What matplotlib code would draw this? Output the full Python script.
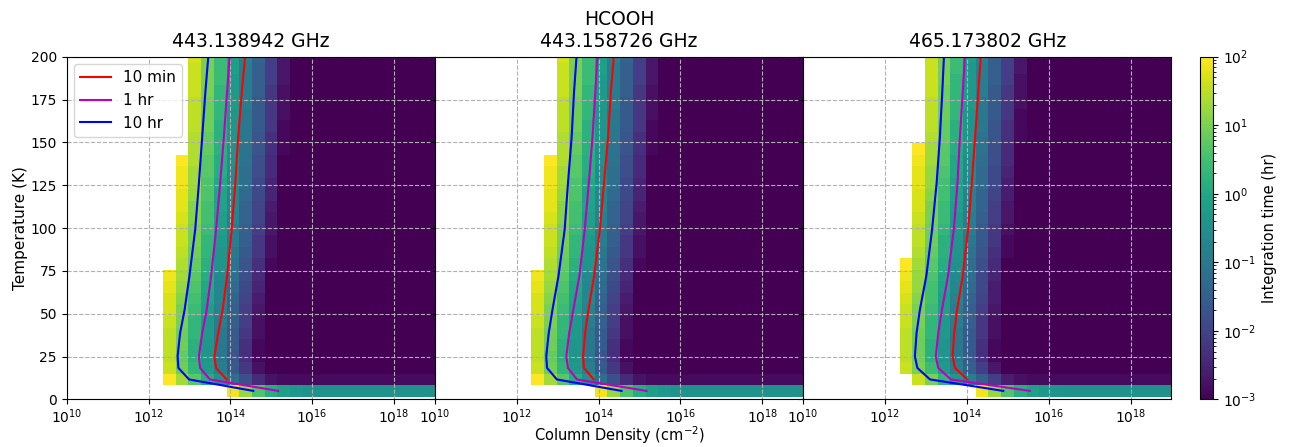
import numpy as np
import matplotlib

matplotlib.use("Agg")
import matplotlib.pyplot as plt
from matplotlib.colors import LogNorm

# ── grid of the calculation: 30 column densities x 30 temperatures ──────────
COLDENS = np.logspace(10, 19, 30)        # cm^-2
TEMPS = np.linspace(5, 200, 30)          # K

TITLES = ["443.138942 GHz", "HCOOH\n443.158726 GHz", "465.173802 GHz"]

# log10(integration time / hr) per temperature row (bottom -> top).
# Each row: (first visible column, values from that column on); columns to
# the left are undetectable (blank), columns to the right keep the last value.
P1_CELLS = [
    (13, [1.9, 1.2, 0.6, 0.1, -0.2, -0.35, -0.42, -0.45]),
    (8, [2.0, 1.3, 0.7, 0.1, -0.5, -1.2, -1.8, -2.4, -2.75, -2.85]),
    (8, [1.6, 0.9, 0.3, -0.3, -0.9, -1.6, -2.2, -2.8, -3.4]),
    (8, [1.5, 0.8, 0.2, -0.4, -1.0, -1.7, -2.3, -2.9, -3.5]),
    (8, [1.5, 0.9, 0.2, -0.4, -1.0, -1.6, -2.3, -2.9, -3.5]),
    (8, [1.5, 0.9, 0.3, -0.3, -1.0, -1.6, -2.2, -2.8, -3.4]),
    (8, [1.6, 1.0, 0.3, -0.3, -0.9, -1.5, -2.1, -2.8, -3.4]),
    (8, [1.7, 1.0, 0.4, -0.2, -0.8, -1.5, -2.1, -2.7, -3.3]),
    (8, [1.7, 1.1, 0.5, -0.1, -0.7, -1.4, -2.0, -2.6, -3.2]),
    (8, [1.8, 1.2, 0.6, 0.0, -0.7, -1.3, -1.9, -2.5, -3.1]),
    (8, [1.9, 1.3, 0.7, 0.1, -0.6, -1.2, -1.8, -2.4, -3.0, -3.7]),
    (9, [1.4, 0.8, 0.2, -0.4, -1.1, -1.7, -2.3, -2.9, -3.5]),
    (9, [1.5, 0.9, 0.3, -0.4, -1.0, -1.6, -2.2, -2.8, -3.5]),
    (9, [1.6, 1.0, 0.3, -0.3, -0.9, -1.5, -2.2, -2.8, -3.4]),
    (9, [1.6, 1.0, 0.4, -0.2, -0.9, -1.5, -2.1, -2.7, -3.3]),
    (9, [1.7, 1.1, 0.5, -0.2, -0.8, -1.4, -2.0, -2.7, -3.3]),
    (9, [1.8, 1.1, 0.5, -0.1, -0.7, -1.4, -2.0, -2.6, -3.2]),
    (9, [1.8, 1.2, 0.6, -0.1, -0.7, -1.3, -1.9, -2.5, -3.2]),
    (9, [1.9, 1.3, 0.6, 0.0, -0.6, -1.2, -1.9, -2.5, -3.1]),
    (9, [1.9, 1.3, 0.7, 0.1, -0.6, -1.2, -1.8, -2.4, -3.0, -3.7]),
    (9, [2.0, 1.4, 0.7, 0.1, -0.5, -1.1, -1.8, -2.4, -3.0, -3.6]),
    (10, [1.4, 0.8, 0.2, -0.5, -1.1, -1.7, -2.3, -2.9, -3.6]),
    (10, [1.4, 0.8, 0.2, -0.4, -1.0, -1.7, -2.3, -2.9, -3.5]),
    (10, [1.5, 0.9, 0.2, -0.4, -1.0, -1.6, -2.2, -2.9, -3.5]),
    (10, [1.5, 0.9, 0.3, -0.4, -1.0, -1.6, -2.2, -2.8, -3.5]),
    (10, [1.5, 0.9, 0.3, -0.3, -0.9, -1.6, -2.2, -2.8, -3.4]),
    (10, [1.6, 1.0, 0.3, -0.3, -0.9, -1.5, -2.2, -2.8, -3.4]),
    (10, [1.6, 1.0, 0.4, -0.3, -0.9, -1.5, -2.1, -2.7, -3.4]),
    (10, [1.6, 1.0, 0.4, -0.2, -0.9, -1.5, -2.1, -2.7, -3.3]),
    (10, [1.7, 1.0, 0.4, -0.2, -0.8, -1.4, -2.1, -2.7, -3.3]),
]

P2_CELLS = [
    (13, [1.9, 1.2, 0.6, 0.1, -0.2, -0.35, -0.42, -0.45]),
    (8, [2.0, 1.3, 0.7, 0.1, -0.5, -1.2, -1.8, -2.4, -2.75, -2.85]),
    (8, [1.6, 0.9, 0.3, -0.3, -0.9, -1.6, -2.2, -2.8, -3.4]),
    (8, [1.5, 0.8, 0.2, -0.4, -1.0, -1.7, -2.3, -2.9, -3.5]),
    (8, [1.5, 0.9, 0.2, -0.4, -1.0, -1.6, -2.3, -2.9, -3.5]),
    (8, [1.5, 0.9, 0.3, -0.3, -1.0, -1.6, -2.2, -2.8, -3.4]),
    (8, [1.6, 1.0, 0.3, -0.3, -0.9, -1.5, -2.1, -2.8, -3.4]),
    (8, [1.7, 1.0, 0.4, -0.2, -0.8, -1.5, -2.1, -2.7, -3.3]),
    (8, [1.7, 1.1, 0.5, -0.1, -0.7, -1.4, -2.0, -2.6, -3.2]),
    (8, [1.8, 1.2, 0.6, 0.0, -0.7, -1.3, -1.9, -2.5, -3.1]),
    (8, [1.9, 1.3, 0.7, 0.1, -0.6, -1.2, -1.8, -2.4, -3.0, -3.7]),
    (9, [1.4, 0.8, 0.2, -0.4, -1.1, -1.7, -2.3, -2.9, -3.5]),
    (9, [1.5, 0.9, 0.3, -0.4, -1.0, -1.6, -2.2, -2.8, -3.5]),
    (9, [1.6, 1.0, 0.3, -0.3, -0.9, -1.5, -2.2, -2.8, -3.4]),
    (9, [1.6, 1.0, 0.4, -0.2, -0.9, -1.5, -2.1, -2.7, -3.3]),
    (9, [1.7, 1.1, 0.5, -0.2, -0.8, -1.4, -2.0, -2.7, -3.3]),
    (9, [1.8, 1.1, 0.5, -0.1, -0.7, -1.4, -2.0, -2.6, -3.2]),
    (9, [1.8, 1.2, 0.6, -0.1, -0.7, -1.3, -1.9, -2.5, -3.2]),
    (9, [1.9, 1.3, 0.6, 0.0, -0.6, -1.2, -1.9, -2.5, -3.1]),
    (9, [1.9, 1.3, 0.7, 0.1, -0.6, -1.2, -1.8, -2.4, -3.0, -3.7]),
    (9, [2.0, 1.4, 0.7, 0.1, -0.5, -1.1, -1.8, -2.4, -3.0, -3.6]),
    (10, [1.4, 0.8, 0.2, -0.5, -1.1, -1.7, -2.3, -2.9, -3.6]),
    (10, [1.4, 0.8, 0.2, -0.4, -1.0, -1.7, -2.3, -2.9, -3.5]),
    (10, [1.5, 0.9, 0.2, -0.4, -1.0, -1.6, -2.2, -2.9, -3.5]),
    (10, [1.5, 0.9, 0.3, -0.4, -1.0, -1.6, -2.2, -2.8, -3.5]),
    (10, [1.5, 0.9, 0.3, -0.3, -0.9, -1.6, -2.2, -2.8, -3.4]),
    (10, [1.6, 1.0, 0.3, -0.3, -0.9, -1.5, -2.2, -2.8, -3.4]),
    (10, [1.6, 1.0, 0.4, -0.3, -0.9, -1.5, -2.1, -2.7, -3.4]),
    (10, [1.6, 1.0, 0.4, -0.2, -0.9, -1.5, -2.1, -2.7, -3.3]),
    (10, [1.7, 1.0, 0.4, -0.2, -0.8, -1.4, -2.1, -2.7, -3.3]),
]

P3_CELLS = [
    (14, [1.9, 1.2, 0.6, 0.1, -0.2, -0.35, -0.42, -0.45]),
    (9, [1.6, 1.0, 0.3, -0.3, -0.9, -1.5, -2.1, -2.6, -2.8, -2.85]),
    (8, [1.6, 1.0, 0.4, -0.3, -0.9, -1.5, -2.1, -2.7, -3.4]),
    (8, [1.5, 0.9, 0.2, -0.4, -1.0, -1.6, -2.3, -2.9, -3.5]),
    (8, [1.5, 0.9, 0.2, -0.4, -1.0, -1.6, -2.3, -2.9, -3.5]),
    (8, [1.5, 0.9, 0.3, -0.3, -1.0, -1.6, -2.2, -2.8, -3.4]),
    (8, [1.6, 1.0, 0.3, -0.3, -0.9, -1.5, -2.2, -2.8, -3.4]),
    (8, [1.6, 1.0, 0.4, -0.2, -0.9, -1.5, -2.1, -2.7, -3.3]),
    (8, [1.7, 1.1, 0.5, -0.2, -0.8, -1.4, -2.0, -2.6, -3.3]),
    (8, [1.8, 1.2, 0.5, -0.1, -0.7, -1.3, -1.9, -2.6, -3.2]),
    (8, [1.9, 1.2, 0.6, 0.0, -0.6, -1.2, -1.9, -2.5, -3.1]),
    (8, [2.0, 1.3, 0.7, 0.1, -0.5, -1.2, -1.8, -2.4, -3.0, -3.6]),
    (9, [1.4, 0.8, 0.2, -0.4, -1.1, -1.7, -2.3, -2.9, -3.5]),
    (9, [1.5, 0.9, 0.2, -0.4, -1.0, -1.6, -2.2, -2.9, -3.5]),
    (9, [1.5, 0.9, 0.3, -0.3, -0.9, -1.6, -2.2, -2.8, -3.4]),
    (9, [1.6, 1.0, 0.4, -0.3, -0.9, -1.5, -2.1, -2.7, -3.4]),
    (9, [1.7, 1.0, 0.4, -0.2, -0.8, -1.4, -2.1, -2.7, -3.3]),
    (9, [1.7, 1.1, 0.5, -0.1, -0.8, -1.4, -2.0, -2.6, -3.2]),
    (9, [1.8, 1.2, 0.5, -0.1, -0.7, -1.3, -1.9, -2.6, -3.2]),
    (9, [1.8, 1.2, 0.6, 0.0, -0.6, -1.3, -1.9, -2.5, -3.1]),
    (9, [1.9, 1.3, 0.7, 0.0, -0.6, -1.2, -1.8, -2.4, -3.1]),
    (9, [2.0, 1.3, 0.7, 0.1, -0.5, -1.1, -1.8, -2.4, -3.0, -3.6]),
    (10, [1.4, 0.8, 0.2, -0.4, -1.1, -1.7, -2.3, -2.9, -3.6]),
    (10, [1.5, 0.8, 0.2, -0.4, -1.0, -1.7, -2.3, -2.9, -3.5]),
    (10, [1.5, 0.9, 0.3, -0.4, -1.0, -1.6, -2.2, -2.9, -3.5]),
    (10, [1.5, 0.9, 0.3, -0.3, -1.0, -1.6, -2.2, -2.8, -3.4]),
    (10, [1.6, 0.9, 0.3, -0.3, -0.9, -1.6, -2.2, -2.8, -3.4]),
    (10, [1.6, 1.0, 0.3, -0.3, -0.9, -1.5, -2.1, -2.8, -3.4]),
    (10, [1.6, 1.0, 0.4, -0.3, -0.9, -1.5, -2.1, -2.7, -3.4]),
    (10, [1.6, 1.0, 0.4, -0.2, -0.8, -1.5, -2.1, -2.7, -3.3]),
]

# ── detection curves: log10 N (cm^-2) reached at each temperature ───────────
LINE_T = [5.0, 11.7, 18.4, 25.2, 38.6, 52.1, 72.2, 99.1, 126.0, 152.9, 179.8, 200.0]
LINE_LABELS = ["10 min", "1 hr", "10 hr"]
LINE_COLORS = ["r", "m", "b"]

P1_10MIN = [np.nan, 13.91, 13.65, 13.61, 13.70, 13.81, 13.92, 14.03, 14.12, 14.19, 14.28, 14.36]
P1_1HR = [15.17, 13.50, 13.26, 13.23, 13.31, 13.42, 13.53, 13.65, 13.75, 13.84, 13.92, 13.98]
P1_10HR = [14.56, 12.99, 12.73, 12.71, 12.77, 12.88, 13.00, 13.14, 13.23, 13.31, 13.39, 13.46]

P2_10MIN = [np.nan, 13.88, 13.64, 13.62, 13.67, 13.75, 13.89, 14.03, 14.13, 14.23, 14.30, 14.37]
P2_1HR = [15.17, 13.47, 13.25, 13.21, 13.28, 13.38, 13.53, 13.66, 13.76, 13.85, 13.92, 13.97]
P2_10HR = [14.56, 12.98, 12.74, 12.72, 12.78, 12.87, 13.02, 13.17, 13.25, 13.34, 13.40, 13.46]

P3_10MIN = [np.nan, 14.01, 13.71, 13.65, 13.69, 13.76, 13.90, 14.03, 14.12, 14.20, 14.28, 14.34]
P3_1HR = [15.54, 13.61, 13.30, 13.24, 13.30, 13.39, 13.54, 13.68, 13.77, 13.83, 13.90, 13.95]
P3_10HR = [14.89, 13.10, 12.79, 12.73, 12.77, 12.85, 13.01, 13.15, 13.26, 13.34, 13.40, 13.44]

PANELS = [
    (P1_CELLS, [P1_10MIN, P1_1HR, P1_10HR]),
    (P2_CELLS, [P2_10MIN, P2_1HR, P2_10HR]),
    (P3_CELLS, [P3_10MIN, P3_1HR, P3_10HR]),
]


def build_grid(cells):
    grid = np.full((len(TEMPS), len(COLDENS)), np.nan)
    for i, (c0, vals) in enumerate(cells):
        grid[i, c0:c0 + len(vals)] = vals
        grid[i, c0 + len(vals):] = vals[-1]
    return np.ma.masked_invalid(10.0 ** grid)


fig = plt.figure(figsize=(12.98, 4.47), dpi=100)
left, bottom, width, height = 0.0514, 0.1063, 0.2837, 0.7669
norm = LogNorm(vmin=1e-3, vmax=1e2)

axes = []
for k, (cells, curves) in enumerate(PANELS):
    ax = fig.add_axes([left + k * width, bottom, width, height])
    mesh = ax.pcolormesh(COLDENS, TEMPS, build_grid(cells), norm=norm,
                         cmap="viridis", shading="nearest")
    for logn, lab, col in zip(curves, LINE_LABELS, LINE_COLORS):
        ax.plot(10.0 ** np.asarray(logn), LINE_T, color=col, lw=1.5, label=lab)
    ax.set_xscale("log")
    ax.set_xlim(1e10, 1e19)
    ax.set_ylim(0, 200)
    ax.grid(True, linestyle="--", color="#b0b0b0")
    ax.tick_params(labelsize=10)
    ax.tick_params(axis="x", pad=2.5)
    ax.set_title(TITLES[k], fontsize=13.5, pad=7)
    if k == 0:
        ax.set_ylabel("Temperature (K)", fontsize=11, labelpad=2)
        ax.legend(loc="upper left", fontsize=11)
    else:
        ax.tick_params(labelleft=False)
    axes.append(ax)

# shared x label, centred under the middle panel
fig.text(left + 1.5 * width, 0.002, "Column Density (cm$^{-2}$)",
         fontsize=10.5, ha="center", va="bottom")

cax = fig.add_axes([0.9245, bottom, 0.0100, height])
cb = fig.colorbar(mesh, cax=cax)
cb.set_label("Integration time (hr)", fontsize=10.5)
cb.ax.tick_params(labelsize=10)

fig.savefig("out.png", dpi=100)
